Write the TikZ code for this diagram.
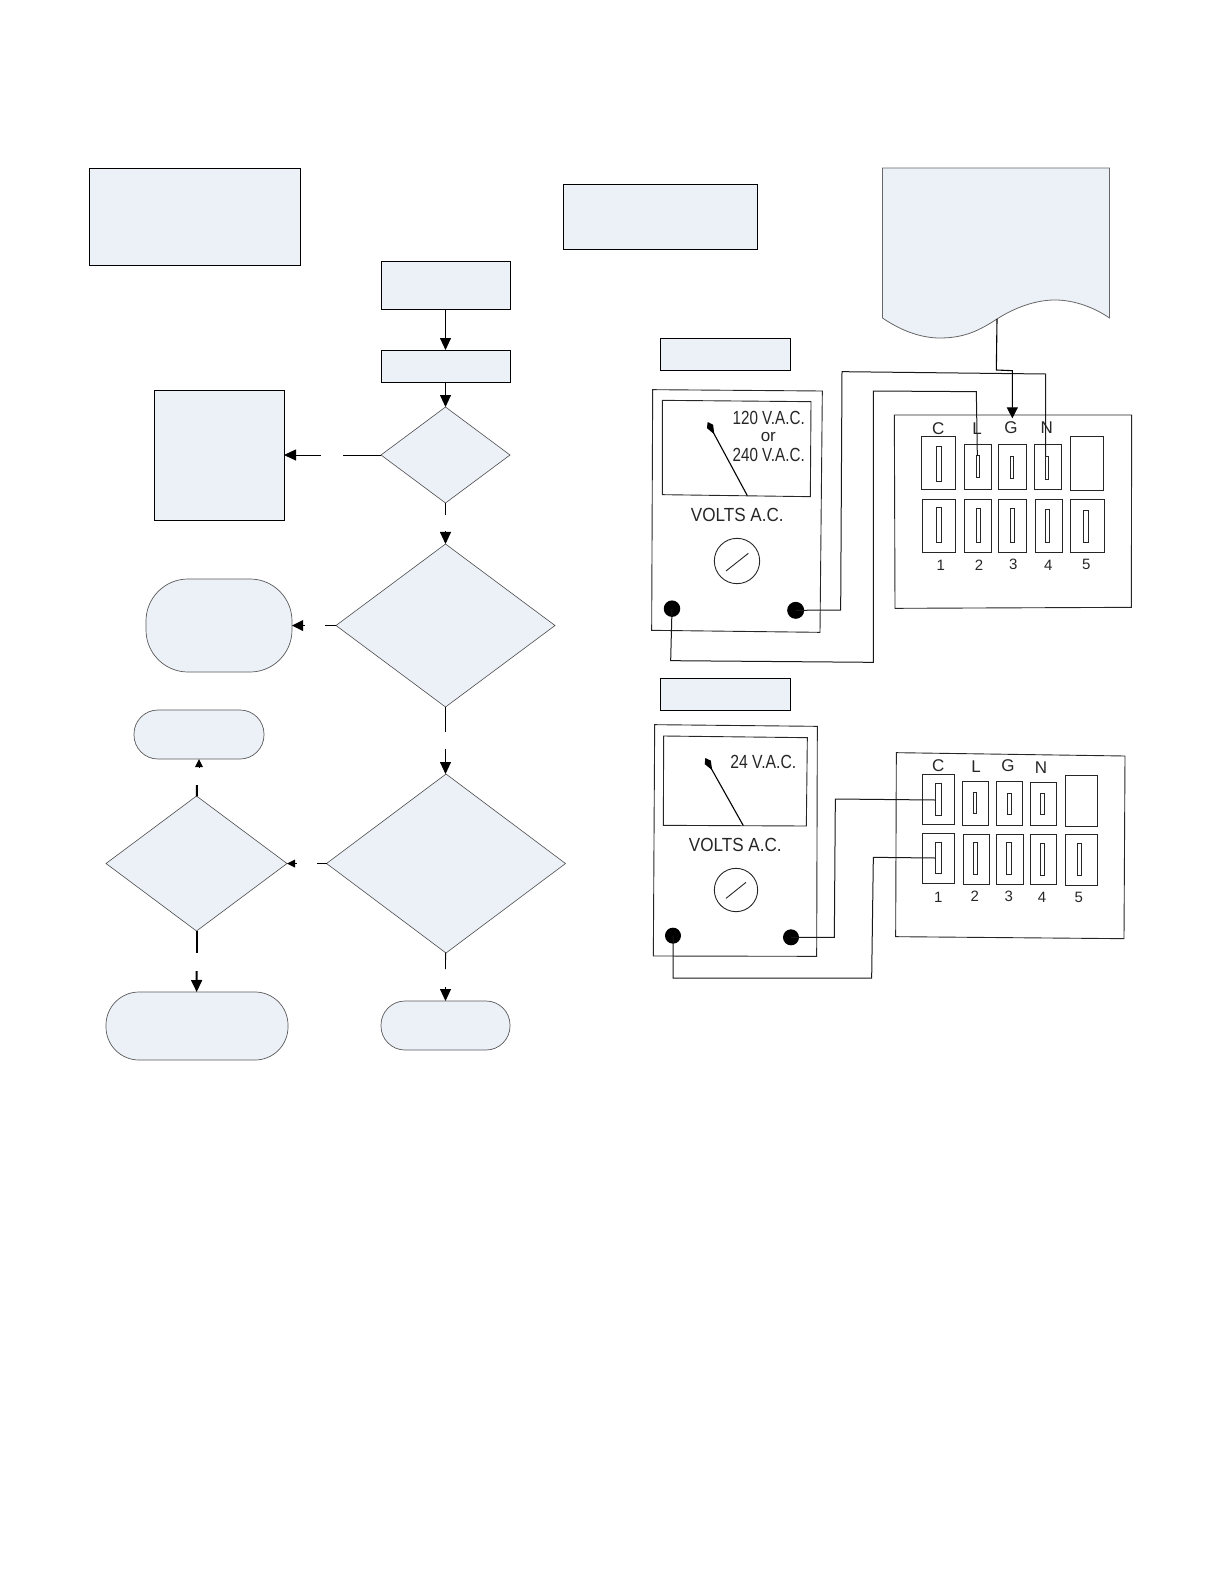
\documentclass[tikz,border=0pt]{standalone}
\usepackage{fontspec}
\setmainfont{Liberation Sans}
\usetikzlibrary{shapes.geometric,arrows.meta}
\definecolor{paleblue}{HTML}{ECF1F8}
\tikzset{
  boxn/.style={draw=black,line width=0.8pt,fill=paleblue,rectangle,inner sep=0pt,outer sep=0pt},
  dia/.style={draw=black!70,line width=0.6pt,fill=paleblue,diamond,aspect=1,inner sep=0pt,outer sep=0pt},
  term/.style={draw=black!65,line width=0.7pt,fill=paleblue,rectangle,inner sep=0pt,outer sep=0pt},
  conn/.style={draw=black,line width=0.9pt},
  thick conn/.style={draw=black,line width=2pt},
  arr/.style={conn,-{Triangle[length=12pt,width=11pt]}},
  thick arr/.style={thick conn,-{Triangle[length=12pt,width=11pt]}},
  small arr/.style={draw=black,line width=0pt,-{Triangle[length=8pt,width=8pt]}},
  hw/.style={draw=black!85,line width=0.9pt,line join=miter},
  wire/.style={draw=black!90,line width=1pt},
  lab/.style={inner sep=0pt,outer sep=0pt,text=black!85},
  dotn/.style={circle,fill=black,inner sep=0pt,outer sep=0pt},
  needle/.style={draw=black,line width=1.1pt,-{Kite[length=14pt,width=7pt,inset=9pt]}}
}
\newcommand{\slotpair}[8]{\draw[hw] (#1,#2) rectangle (#3,#4); \draw[hw] (#5,#6) rectangle (#7,#8);}
\newcommand{\squeezed}[2]{\scalebox{#1}[1]{#2}}
\begin{document}
\begin{tikzpicture}[x=1pt,y=-1pt]
\useasboundingbox (0,0) rectangle (1224,1584);

% ---- flowchart nodes ----
\node[boxn,minimum width=211pt,minimum height=97pt] (topleft) at (194.5,216.5) {};
\node[boxn,minimum width=194pt,minimum height=65pt] (topmid) at (660,216.5) {};
\node[boxn,minimum width=129pt,minimum height=48pt] (start) at (445.5,285) {};
\node[boxn,minimum width=129pt,minimum height=32pt] (second) at (445.5,366) {};
\node[dia,minimum width=129pt,minimum height=96pt] (d1) at (445.5,455) {};
\node[boxn,minimum width=130pt,minimum height=130pt] (bleft) at (219,455) {};
\node[dia,minimum width=219pt,minimum height=163pt] (d2) at (445.5,625.5) {};
\node[term,rounded corners=42pt,minimum width=146pt,minimum height=93pt] (t1) at (219,625.5) {};
\node[term,rounded corners=24pt,minimum width=130pt,minimum height=49pt] (t2) at (199,734.5) {};
\node[dia,minimum width=239pt,minimum height=179pt] (d3) at (446,863.5) {};
\node[dia,minimum width=181pt,minimum height=135pt] (d4) at (196.5,863.5) {};
\node[term,rounded corners=33pt,minimum width=182pt,minimum height=68pt] (t3) at (197,1026) {};
\node[term,rounded corners=24pt,minimum width=129pt,minimum height=49pt] (t4) at (445.5,1025.5) {};

% document shape (wavy bottom)
\draw[draw=black!60,line width=0.8pt,fill=paleblue] (882.5,168) -- (1109.5,168) -- (1109.5,318)
  .. controls (1095,308) and (1075,300) .. (1055,300)
  .. controls (1035,300) and (1014,308) .. (997,319)
  .. controls (980,330) and (965,338) .. (940,338)
  .. controls (920,338) and (900,330) .. (882.5,318) -- cycle;
\coordinate (docb) at (997,319);

% ---- connectors ----
\draw[arr] (start) -- (second);
\draw[arr] (second) -- (d1);

\coordinate (g1a) at (343,455);
\coordinate (g1b) at (321,455);
\draw[conn] (d1) -- (g1a);
\draw[arr] (g1b) -- (bleft);

\coordinate (g2a) at (445.5,515);
\coordinate (g2b) at (445.5,531);
\draw[conn] (d1) -- (g2a);
\draw[arr] (g2b) -- (d2);

\coordinate (g3a) at (325,625.5);
\coordinate (g3b) at (304,625.5);
\draw[conn] (d2) -- (g3a);
\draw[small arr,-{Triangle[length=11pt,width=11pt]}] (g3b) -- (t1);

\coordinate (g4a) at (445.5,732);
\coordinate (g4b) at (445.5,749);
\draw[conn] (d2) -- (g4a);
\draw[arr] (g4b) -- (445.5,774);

\coordinate (g5a) at (445.5,969);
\coordinate (g5b) at (445.5,987);
\draw[conn] (d3) -- (g5a);
\draw[arr] (g5b) -- (t4);

\coordinate (g6a) at (317,863.5);
\coordinate (g6b) at (296,863.5);
\draw[conn] (d3) -- (g6a);
\draw[small arr] (g6b) -- (d4);

\coordinate (g7a) at (197,785);
\coordinate (g7b) at (199,767.5);
\draw[thick conn] (d4) -- (g7a);
\draw[small arr] (g7b) -- (t2);

\coordinate (g8a) at (196.5,953);
\coordinate (g8b) at (196.5,971);
\draw[thick conn] (d4) -- (g8a);
\draw[thick arr] (g8b) -- (t3);

% ---- headings of the two meters ----
\node[boxn,minimum width=130pt,minimum height=32pt] (h1) at (725,354) {};
\node[boxn,minimum width=130pt,minimum height=32pt] (h2) at (725,694) {};

% ---- upper meter and panel (coordinates of the 3x crop) ----
\begin{scope}[shift={(640,320)},x=0.33333pt,y=-0.33333pt]
\draw[hw] (38,209) -- (547,213) -- (540,937) -- (35,931) -- cycle;
\draw[hw] (67,241) -- (513,245) -- (511,530) -- (67,524) -- cycle;
\coordinate (n1a) at (322,527);
\coordinate (n1b) at (203,306);
\draw[needle] (n1a) -- (n1b);
\node[lab,font=\fontsize{19}{19}\selectfont] at (386,295) {\squeezed{0.8}{120 V.A.C.}};
\node[lab,font=\fontsize{17}{17}\selectfont] at (385,352) {or};
\node[lab,font=\fontsize{19}{19}\selectfont] at (386,405) {\squeezed{0.8}{240 V.A.C.}};
\node[lab,font=\fontsize{19}{19}\selectfont] at (292,585) {\squeezed{0.9}{VOLTS A.C.}};
\draw[hw] (291,723) circle[radius=68];
\draw[hw] (258,753) -- (325,700);
\node[dotn,minimum size=16.5pt] (m1l) at (96,866) {};
\node[dotn,minimum size=17pt] (m1r) at (467,871) {};

\draw[hw] (763,285) -- (1475,285) -- (1474,862) -- (765,865) -- cycle;
\slotpair{845}{350}{945}{507}{888}{380}{905}{484}
\slotpair{973}{372}{1054}{507}{1008}{407}{1018}{472}
\slotpair{1076}{373}{1158}{507}{1110}{410}{1120}{475}
\slotpair{1183}{373}{1264}{507}{1216}{410}{1226}{478}
\draw[hw] (1290,350) rectangle (1390,510);
\slotpair{848}{538}{947}{696}{888}{563}{905}{667}
\slotpair{974}{538}{1054}{696}{1009}{565}{1021}{667}
\slotpair{1076}{538}{1160}{696}{1110}{566}{1123}{667}
\slotpair{1185}{538}{1266}{696}{1216}{567}{1228}{667}
\slotpair{1291}{538}{1392}{696}{1330}{571}{1345}{667}
\foreach \t/\x/\y in {C/895/325,L/1011/325,G/1113/322,N/1220/322}
  \node[lab,font=\fontsize{17}{17}\selectfont] at (\x,\y) {\t};
\foreach \t/\x/\y in {1/902/737,2/1017/736,3/1120/734,4/1225/736,5/1339/734}
  \node[lab,font=\fontsize{15}{15}\selectfont] at (\x,\y) {\t};

\coordinate (c1a) at (1012,408);
\coordinate (c1b) at (1217,408);
\draw[wire] (m1r.center) -- (602,870) -- (606,155) -- (1217,162) -- (c1b);
\draw[wire] (m1l.center) -- (92,1022) -- (700,1027) -- (700,213) -- (1009,215) -- (c1a);
\coordinate (gterm) at (1117,295);
\draw[draw=black,line width=1.1pt,-{Triangle[length=11pt,width=11pt]}] (docb) -- (1069,150) -- (1117,152) -- (gterm);
\end{scope}

% ---- lower meter and panel ----
\begin{scope}[shift={(640,670)},x=0.33333pt,y=-0.33333pt]
\draw[hw] (44,164) -- (532,169) -- (530,859) -- (40,858) -- cycle;
\draw[hw] (71,198) -- (502,203) -- (499,468) -- (70,466) -- cycle;
\coordinate (n2a) at (310,467);
\coordinate (n2b) at (196,264);
\draw[needle] (n2a) -- (n2b);
\node[lab,font=\fontsize{19}{19}\selectfont] at (370,276) {\squeezed{0.83}{24 V.A.C.}};
\node[lab,font=\fontsize{19}{19}\selectfont] at (286,525) {\squeezed{0.9}{VOLTS A.C.}};
\draw[hw] (288,660) circle[radius=65];
\draw[hw] (258,685) -- (318,637);
\node[dotn,minimum size=16pt] (m2l) at (99,797) {};
\node[dotn,minimum size=16pt] (m2r) at (453,802) {};

\draw[hw] (769,248) -- (1455,258) -- (1452,806) -- (767,800) -- cycle;
\slotpair{846}{312}{943}{464}{886}{340}{904}{436}
\slotpair{968}{335}{1046}{465}{1000}{368}{1010}{430}
\slotpair{1069}{335}{1148}{466}{1101}{370}{1115}{433}
\slotpair{1171}{337}{1249}{467}{1200}{370}{1214}{434}
\draw[hw] (1275,317) rectangle (1371,468);
\slotpair{846}{491}{944}{640}{886}{516}{903}{610}
\slotpair{969}{492}{1048}{642}{1000}{517}{1013}{612}
\slotpair{1069}{493}{1150}{643}{1098}{518}{1113}{613}
\slotpair{1172}{494}{1250}{644}{1200}{520}{1214}{615}
\slotpair{1276}{494}{1372}{645}{1313}{520}{1323}{617}
\foreach \t/\x/\y in {C/895/287,L/1008/290,G/1104/288,N/1203/292}
  \node[lab,font=\fontsize{17}{17}\selectfont] at (\x,\y) {\t};
\foreach \t/\x/\y in {1/895/681,2/1004/680,3/1106/680,4/1206/683,5/1316/682}
  \node[lab,font=\fontsize{15}{15}\selectfont] at (\x,\y) {\t};

\coordinate (c2a) at (885,390);
\coordinate (c2b) at (885,564);
\draw[wire] (m2r.center) -- (583,802) -- (586,387) -- (c2a);
\draw[wire] (m2l.center) -- (99,924) -- (695,924) -- (700,562) -- (c2b);
\end{scope}
\end{tikzpicture}
\end{document}
